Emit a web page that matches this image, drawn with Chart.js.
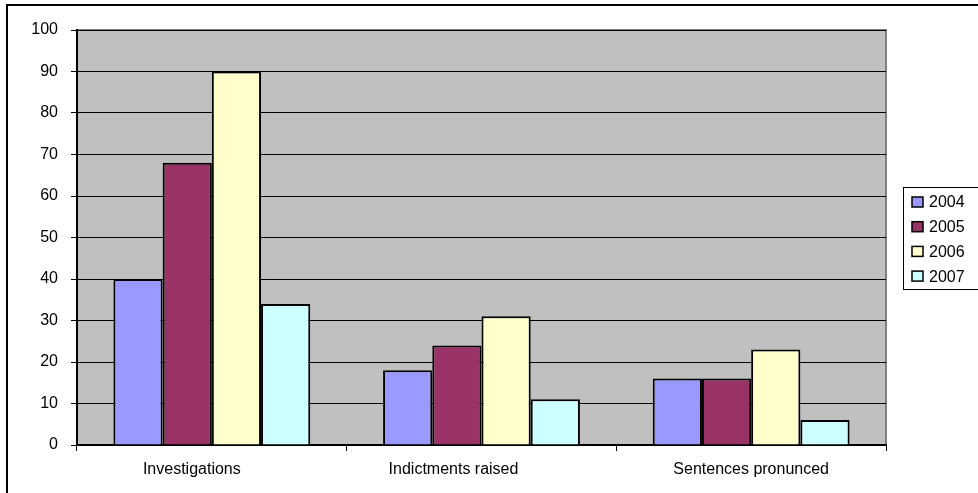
<!DOCTYPE html>
<html>
<head>
<meta charset="utf-8">
<script src="https://cdn.jsdelivr.net/npm/chart.js@4"></script>
<style>
    html, body { margin: 0; padding: 0; background: #fff; }
    #wrap { width: 978px; height: 493px; position: relative; }
</style>
</head>
<body>
<div id="wrap"><canvas id="chart" width="978" height="493"></canvas></div>
<script>
// datos del grafico
const categories = ['Investigations', 'Indictments raised', 'Sentences pronunced'];
const years = ['2004', '2005', '2006', '2007'];
const values2004 = [40, 18, 16];
const values2005 = [68, 24, 16];
const values2006 = [90, 31, 23];
const values2007 = [34, 11, 6];
const yTicks = [0, 10, 20, 30, 40, 50, 60, 70, 80, 90, 100];

const colors = ['#9999FF', '#993366', '#FFFFCC', '#CCFFFF'];
const allValues = [values2004, values2005, values2006, values2007];
const FONT = { family: 'Liberation Sans, Arial, sans-serif', size: 16 };
// desplazamiento de las etiquetas del eje x (como en el original)
const labelShift = [-20, -28, 0];

// fondo gris del area, borde exterior y leyenda a mano
const excelLook = {
    id: 'excelLook',
    beforeDraw(chart) {
        const ctx = chart.ctx;
        const a = chart.chartArea;
        ctx.save();
        ctx.fillStyle = '#C0C0C0';
        ctx.fillRect(a.left, a.top, a.right - a.left, a.bottom - a.top);
        ctx.strokeStyle = '#808080';
        ctx.lineWidth = 2;
        ctx.strokeRect(a.left, a.top, a.right - a.left, a.bottom - a.top);
        ctx.restore();
    },
    afterDraw(chart) {
        const ctx = chart.ctx;
        const xScale = chart.scales.x;
        ctx.save();
        // borde del grafico
        ctx.strokeStyle = '#000';
        ctx.lineWidth = 2;
        ctx.beginPath();
        ctx.moveTo(7, 500);
        ctx.lineTo(7, 5);
        ctx.lineTo(990, 5);
        ctx.stroke();

        // etiquetas del eje x
        ctx.font = FONT.size + 'px ' + FONT.family;
        ctx.fillStyle = '#000';
        ctx.textAlign = 'center';
        ctx.textBaseline = 'middle';
        chart.data.labels.forEach((lab, i) => {
            ctx.fillText(lab, xScale.getPixelForValue(i) + labelShift[i], xScale.top + 25);
        });

        // leyenda
        ctx.lineWidth = 1;
        ctx.strokeRect(903.5, 187.5, 100, 102);
        ctx.textBaseline = 'middle';
        ctx.textAlign = 'left';
        chart.data.datasets.forEach((ds, i) => {
            const y = 202 + i * 24.7;
            ctx.fillStyle = ds.backgroundColor;
            ctx.fillRect(912, y - 5, 11, 10);
            ctx.strokeStyle = '#000';
            ctx.lineWidth = 1.5;
            ctx.strokeRect(912, y - 5, 11, 10);
            ctx.fillStyle = '#000';
            ctx.fillText(ds.label, 929, y + 1);
        });
        ctx.restore();
    }
};

const ctx = document.getElementById('chart').getContext('2d');
const chart = new Chart(ctx, {
    type: 'bar',
    data: {
        labels: categories,
        datasets: years.map((yr, i) => ({
            label: yr,
            data: allValues[i],
            backgroundColor: colors[i],
            borderColor: '#000',
            borderWidth: 2,
            barPercentage: 1,
            categoryPercentage: 0.73
        }))
    },
    options: {
        responsive: false,
        animation: false,
        layout: { padding: { top: 30, right: 92, left: 0, bottom: 0 } },
        plugins: {
            legend: { display: false },
            tooltip: { enabled: false }
        },
        scales: {
            x: {
                afterFit(scale) { scale.height = 48; },
                grid: {
                    offset: true,
                    drawOnChartArea: false,
                    color: '#000',
                    tickLength: 6
                },
                border: { color: '#000', width: 2 },
                ticks: { display: false }
            },
            y: {
                min: 0,
                max: 100,
                afterFit(scale) { scale.width = 77; },
                afterBuildTicks(scale) { scale.ticks = yTicks.map(v => ({ value: v })); },
                grid: { color: '#000', lineWidth: 1, tickLength: 6 },
                border: { color: '#000', width: 2 },
                ticks: { color: '#000', font: FONT, padding: 13 }
            }
        }
    },
    plugins: [excelLook]
});
</script>
</body>
</html>
